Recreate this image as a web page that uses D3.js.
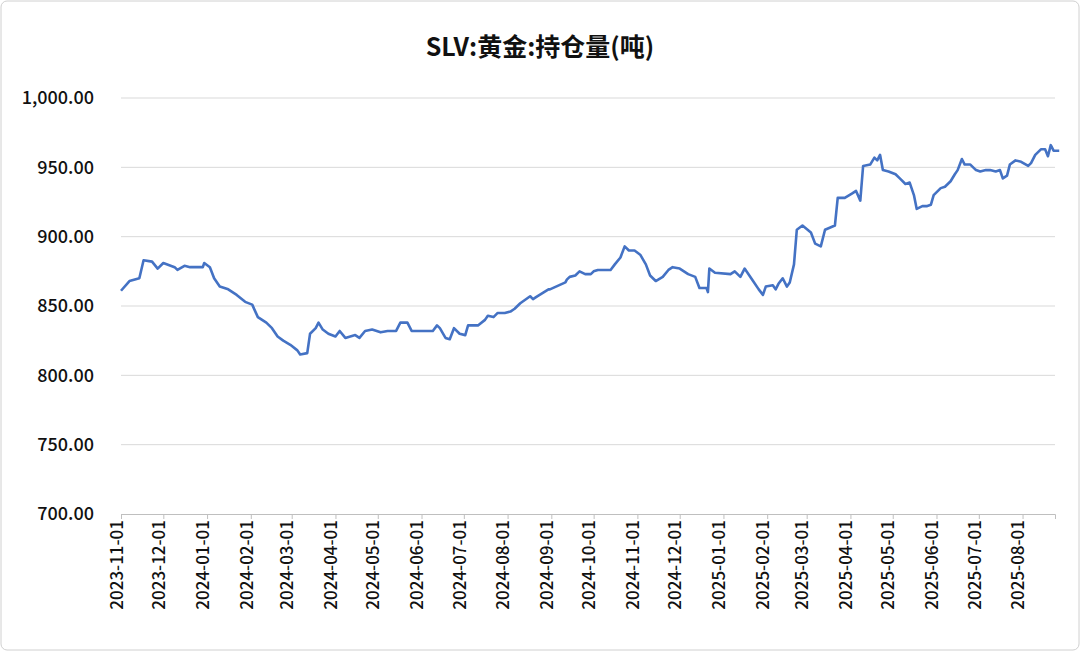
<!DOCTYPE html>
<html><head><meta charset="utf-8">
<script src="https://cdn.jsdelivr.net/npm/d3@7"></script>
<style>body{margin:0;background:#fff;font-family:"Noto Sans CJK SC","Noto Sans",sans-serif}</style>
</head><body>
<svg id="chart" width="1080" height="651"></svg>
<script>
const title = "SLV:黄金:持仓量(吨)";
const baseDate = "2023-11-01";
// days since baseDate
const dayOffsets = [0,6,13,16,22,26,30,38,40,45,49,58,59,63,66,70,76,82,88,93,97,103,107,111,115,120,125,127,132,134,138,140,143,147,152,155,159,166,169,173,178,184,189,195,198,203,206,221,224,226,230,233,236,240,244,246,253,258,260,264,267,272,276,279,283,290,292,295,303,304,315,316,318,322,325,329,333,335,338,347,350,354,357,360,364,368,372,375,379,384,388,391,396,402,407,410,415,416,417,421,432,435,439,442,448,452,455,457,462,464,466,469,472,474,477,479,483,489,492,496,499,506,508,513,518,521,524,526,531,534,536,538,540,544,549,552,556,559,562,564,568,571,574,576,581,584,588,591,593,596,598,602,606,609,613,616,620,623,625,628,630,634,638,643,645,648,652,655,657,659,661,665];
const holdings = [861,868,870,883,882,877,881,878,876,879,878,878,881,878,870,864,862,858,853,851,842,838,834,828,825,822,818,815,816,830,834,838,833,830,828,832,827,829,827,832,833,831,832,832,838,838,832,832,836,834,827,826,834,830,829,836,836,840,843,842,845,845,846,848,852,857,855,857,862,862,867,869,871,872,875,873,873,875,876,876,880,885,893,890,890,887,880,872,868,871,876,878,877,873,871,863,863,860,877,874,873,875,871,877,868,862,858,864,865,862,866,870,864,867,880,905,908,903,895,893,905,908,928,928,931,933,926,951,952,957,955,959,948,947,945,942,938,939,930,920,922,922,923,930,935,936,940,945,948,956,952,952,948,947,948,948,947,948,942,944,952,955,954,951,953,959,963,963,958,966,962,962];
const yTicks = [700,750,800,850,900,950,1000];
const xStart = "2023-11-01", xEnd = "2025-08-24";

const svg = d3.select("#chart");
const margin = {top: 98, right: 25, bottom: 137, left: 121};
const width = 1080, height = 651;
const chartWidth = width - margin.left - margin.right;
const chartHeight = height - margin.top - margin.bottom;
const parse = d3.timeParse("%Y-%m-%d");

svg.append("rect").attr("x", 1).attr("y", 1).attr("width", width - 2).attr("height", height - 2)
    .attr("rx", 6).attr("fill", "#fff").attr("stroke", "#d0d0d0");
svg.append("text").attr("x", 540).attr("y", 56).attr("text-anchor", "middle")
    .attr("font-size", 25).attr("font-weight", "bold").attr("fill", "#111").text(title);

const base = parse(baseDate);
const data = dayOffsets.map((d, i) => ({date: d3.timeDay.offset(base, d), value: holdings[i]}));

const x = d3.scaleTime().domain([parse(xStart), parse(xEnd)]).range([0, chartWidth]);
const y = d3.scaleLinear().domain([700, 1000]).range([chartHeight, 0]);
const g = svg.append("g").attr("transform", `translate(${margin.left},${margin.top})`);

g.append("g").selectAll("line").data(yTicks.slice(1)).join("line")
    .attr("x1", 0).attr("x2", chartWidth).attr("y1", d => y(d)).attr("y2", d => y(d))
    .attr("stroke", "#d9d9d9");

const yAxis = g.append("g").call(d3.axisLeft(y).tickValues(yTicks).tickFormat(d3.format(",.2f")).tickSize(0).tickPadding(27));
yAxis.select(".domain").remove();
yAxis.selectAll("text").attr("font-size", 18).attr("font-weight", 500).attr("fill", "#111").attr("font-family", "'Noto Sans CJK SC'");

const months = d3.timeMonth.range(parse("2023-11-01"), parse("2025-08-02"));
const xAxis = g.append("g").attr("transform", `translate(0,${chartHeight})`)
    .call(d3.axisBottom(x).tickValues(months).tickFormat(d3.timeFormat("%Y-%m-%d")).tickSize(5));
xAxis.select(".domain").attr("stroke", "#bfbfbf");
xAxis.selectAll("line").attr("stroke", "#bfbfbf");
xAxis.selectAll("text").attr("font-size", 17).attr("font-weight", 500).attr("fill", "#111").attr("font-family", "'Noto Sans CJK SC'")
    .attr("transform", "rotate(-90)").attr("text-anchor", "end").attr("dx", "-6").attr("dy", "-0.2em").attr("x", 0).attr("y", 0)
    .attr("dominant-baseline", "middle");

g.append("path").datum(data).attr("fill", "none").attr("stroke", "#4472c4").attr("stroke-width", 2.6)
    .attr("stroke-linejoin", "round")
    .attr("d", d3.line().x(d => x(d.date)).y(d => y(d.value)));
</script>
</body></html>
